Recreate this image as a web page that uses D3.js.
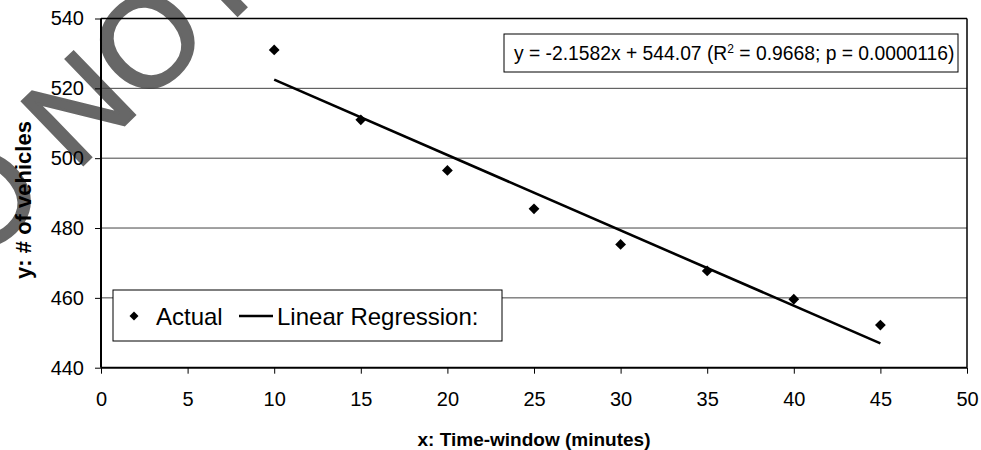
<!DOCTYPE html>
<html><head><meta charset="utf-8">
<script src="https://cdn.jsdelivr.net/npm/d3@7"></script>
<style>
body{margin:0;background:#fff}
svg{display:block}
text{font-family:"Liberation Sans",Arial,Helvetica,sans-serif}
</style>
</head><body>
<svg id="chart" width="981" height="450"></svg>
<script>
// ---- data ----
const timeWindow = [10, 15, 20, 25, 30, 35, 40, 45];
const vehicles = [531, 511, 496.5, 485.5, 475.3, 467.7, 459.6, 452.2];
const slope = -2.1582;
const intercept = 544.07;
const rSquared = "0.9668";
const pValue = "0.0000116";
const xTicks = [0, 5, 10, 15, 20, 25, 30, 35, 40, 45, 50];
const yTicks = [440, 460, 480, 500, 520, 540];
const legendLabels = ["Actual", "Linear Regression:"];
const xTitle = "x: Time-window (minutes)";
const yTitle = "y: # of vehicles";
const watermark = "DO NOT COPY";

// ---- layout ----
const svg = d3.select("#chart");
const L = 101, R = 967, T = 18.5, B = 367.7;
const x = d3.scaleLinear().domain([0, 50]).range([L, R]);
const y = d3.scaleLinear().domain([440, 540]).range([B, T]);

// watermark (behind)
svg.append("text")
  .attr("transform", "translate(-88,330) rotate(-44)")
  .attr("font-size", 128)
  .attr("fill", "#676767")
  .attr("stroke", "#676767")
  .attr("stroke-width", 2.5)
  .text(watermark);

// gridlines
svg.append("g").selectAll("line").data(yTicks.filter(v => v > 440 && v < 540)).join("line")
  .attr("x1", L).attr("x2", R)
  .attr("y1", d => y(d)).attr("y2", d => y(d))
  .attr("stroke", "#444").attr("stroke-width", 1);

// plot border top/right
svg.append("line").attr("x1", L).attr("x2", R).attr("y1", T).attr("y2", T).attr("stroke", "#000").attr("stroke-width", 1.5);
svg.append("line").attr("x1", R).attr("x2", R).attr("y1", T).attr("y2", B).attr("stroke", "#000").attr("stroke-width", 1.5);

// axes
const xAxis = svg.append("g").attr("transform", `translate(0,${B})`)
  .call(d3.axisBottom(x).tickValues(xTicks).tickSize(6).tickPadding(18).tickFormat(d3.format("d")));
const yAxis = svg.append("g").attr("transform", `translate(${L},0)`)
  .call(d3.axisLeft(y).tickValues(yTicks).tickSize(6).tickPadding(11).tickFormat(d3.format("d")));
[xAxis, yAxis].forEach(a => {
  a.select(".domain").attr("stroke", "#000").attr("stroke-width", 2);
  a.selectAll(".tick line").attr("stroke", "#000").attr("stroke-width", 1);
  a.selectAll(".tick text").attr("font-size", 20).attr("fill", "#000")
    .style("font-family", '"Liberation Sans",Arial,sans-serif');
});
xAxis.select(".domain").attr("d", `M${L},0H${R}`);
yAxis.select(".domain").attr("d", `M0,${T}V${B}`);

// axis titles
svg.append("text").attr("x", (L + R) / 2).attr("y", 446)
  .attr("text-anchor", "middle").attr("font-size", 19).attr("font-weight", "bold").text(xTitle);
svg.append("text").attr("transform", `translate(31,200) rotate(-90)`)
  .attr("text-anchor", "middle").attr("font-size", 22).attr("font-weight", "bold").text(yTitle);

// regression line
const xr = d3.extent(timeWindow);
svg.append("line")
  .attr("x1", x(xr[0])).attr("y1", y(slope * xr[0] + intercept))
  .attr("x2", x(xr[1])).attr("y2", y(slope * xr[1] + intercept))
  .attr("stroke", "#000").attr("stroke-width", 2.6);

// points
const diamond = d3.symbol().type(d3.symbolSquare).size(58);
svg.append("g").selectAll("path").data(timeWindow).join("path")
  .attr("d", diamond)
  .attr("transform", (d, i) => `translate(${x(d)},${y(vehicles[i])}) rotate(45)`)
  .attr("fill", "#000");

// equation box
const eq = svg.append("g");
eq.append("rect").attr("x", 504).attr("y", 34).attr("width", 454).attr("height", 38)
  .attr("fill", "#fff").attr("stroke", "#000").attr("stroke-width", 1);
const eqt = eq.append("text").attr("x", 514).attr("y", 60).attr("font-size", 19.3);
const eqStr = `y = ${slope}x + ${intercept} (R`;
eqt.append("tspan").text(eqStr);
eqt.append("tspan").attr("dy", -7).attr("font-size", 12).text("2");
eqt.append("tspan").attr("dy", 7).text(` = ${rSquared}; p = ${pValue})`);

// legend
const lg = svg.append("g");
lg.append("rect").attr("x", 113).attr("y", 290).attr("width", 389).attr("height", 51)
  .attr("fill", "#fff").attr("stroke", "#000").attr("stroke-width", 1);
lg.append("path").attr("d", d3.symbol().type(d3.symbolSquare).size(40))
  .attr("transform", "translate(134,316) rotate(45)").attr("fill", "#000");
lg.append("text").attr("x", 156).attr("y", 325).attr("font-size", 24).text(legendLabels[0]);
lg.append("line").attr("x1", 239).attr("x2", 273).attr("y1", 316).attr("y2", 316)
  .attr("stroke", "#000").attr("stroke-width", 2.6);
lg.append("text").attr("x", 277).attr("y", 325).attr("font-size", 24).text(legendLabels[1]);
</script>
</body></html>
